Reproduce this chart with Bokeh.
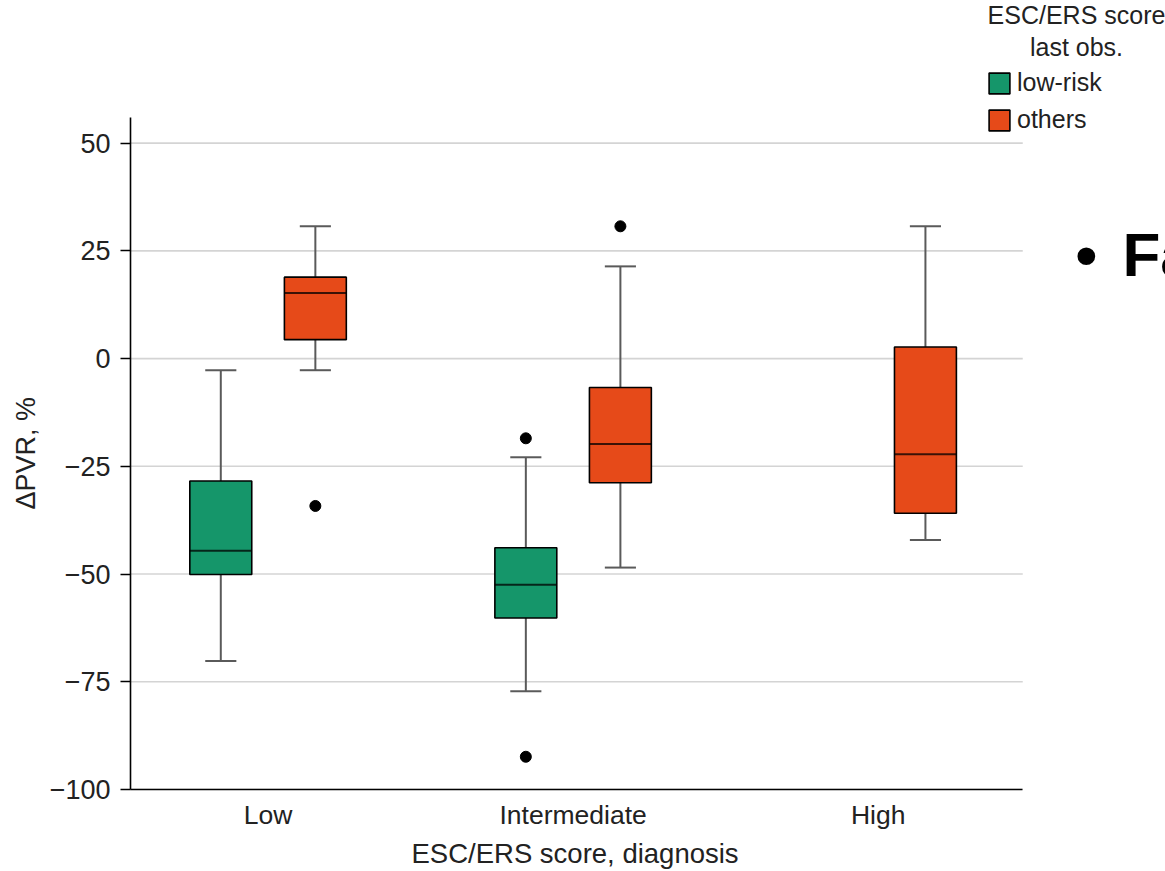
from bokeh.plotting import figure
from bokeh.models import Range1d, FixedTicker, Legend, LegendItem, Label, Title, ColumnDataSource
from bokeh.embed import file_html
from bokeh.resources import INLINE

# ---------------- data ----------------
categories = ["Low", "Intermediate", "High"]
y_ticks = [-100, -75, -50, -25, 0, 25, 50]
y_tick_labels = ["\u2212100", "\u221275", "\u221250", "\u221225", "0", "25", "50"]

# ESC/ERS score last obs. = low-risk
lowrisk_cats = ["Low", "Intermediate"]
lowrisk_lower = [-70.2, -77.2]
lowrisk_q1 = [-50.1, -60.2]
lowrisk_median = [-44.6, -52.5]
lowrisk_q3 = [-28.4, -43.9]
lowrisk_upper = [-2.7, -22.9]
lowrisk_outlier_cats = ["Intermediate", "Intermediate"]
lowrisk_outliers = [-18.5, -92.4]

# ESC/ERS score last obs. = others
others_cats = ["Low", "Intermediate", "High"]
others_lower = [-2.7, -48.5, -42.1]
others_q1 = [4.4, -28.8, -35.9]
others_median = [15.2, -19.8, -22.2]
others_q3 = [18.9, -6.7, 2.7]
others_upper = [30.7, 21.4, 30.7]
others_outlier_cats = ["Low", "Intermediate"]
others_outliers = [-34.2, 30.7]

GREEN = "#15966a"
ORANGE = "#e64a19"
WHISKER = "#5a5a5a"
FONT = "Liberation Sans"

OFFSET = 0.155
BOX_W = 0.203
CAP_HALF = 0.051

# visible plotting panel (axis / grid extent)
X_START, X_END = -0.451, 2.474
Y_START, Y_END = -100, 56

p = figure(width=1165, height=871, output_backend="svg", toolbar_location=None,
           title=None,
           x_range=Range1d(X_START, 2.942), y_range=Range1d(Y_START, 83.1),
           min_border_left=130, min_border_right=0, min_border_top=0,
           min_border_bottom=81)
p.outline_line_color = None
p.background_fill_color = "white"
p.border_fill_color = "white"
p.xgrid.visible = False
p.ygrid.visible = False

# horizontal grid lines restricted to the panel
grid_src = ColumnDataSource(dict(y=y_ticks, x0=[X_START] * len(y_ticks), x1=[X_END] * len(y_ticks)))
p.segment(x0="x0", x1="x1", y0="y", y1="y", source=grid_src, line_color="#d4d4d4", line_width=1.6)


def draw_series(cats, lower, q1, med, q3, upper, ocats, outs, offset, color):
    xs = [categories.index(c) + offset for c in cats]
    src = ColumnDataSource(dict(
        x=xs, left=[x - BOX_W / 2 for x in xs], right=[x + BOX_W / 2 for x in xs],
        cl=[x - CAP_HALF for x in xs], cr=[x + CAP_HALF for x in xs],
        lower=lower, q1=q1, med=med, q3=q3, upper=upper))
    p.segment(x0="x", x1="x", y0="q3", y1="upper", source=src, line_color=WHISKER, line_width=2)
    p.segment(x0="x", x1="x", y0="q1", y1="lower", source=src, line_color=WHISKER, line_width=2)
    p.segment(x0="cl", x1="cr", y0="upper", y1="upper", source=src, line_color=WHISKER, line_width=2)
    p.segment(x0="cl", x1="cr", y0="lower", y1="lower", source=src, line_color=WHISKER, line_width=2)
    box = p.quad(left="left", right="right", bottom="q1", top="q3", source=src,
                 fill_color=color, line_color="black", line_width=1.6)
    p.segment(x0="left", x1="right", y0="med", y1="med", source=src,
              line_color="black", line_alpha=0.75, line_width=2)
    osrc = ColumnDataSource(dict(x=[categories.index(c) + offset for c in ocats], y=outs))
    p.scatter(x="x", y="y", source=osrc, size=11, fill_color="black", line_color="black")
    return box


r_low = draw_series(lowrisk_cats, lowrisk_lower, lowrisk_q1, lowrisk_median, lowrisk_q3,
                    lowrisk_upper, lowrisk_outlier_cats, lowrisk_outliers, -OFFSET, GREEN)
r_oth = draw_series(others_cats, others_lower, others_q1, others_median, others_q3,
                    others_upper, others_outlier_cats, others_outliers, OFFSET, ORANGE)

# ---------------- axes ----------------
p.xaxis.ticker = FixedTicker(ticks=list(range(len(categories))))
p.xaxis.major_label_overrides = {i: c for i, c in enumerate(categories)}
p.xaxis.bounds = (X_START, X_END)
p.yaxis.ticker = FixedTicker(ticks=y_ticks)
p.yaxis.major_label_overrides = {t: l for t, l in zip(y_ticks, y_tick_labels)}
p.yaxis.bounds = (Y_START, Y_END)

for ax in (p.xaxis[0], p.yaxis[0]):
    ax.axis_line_color = "black"
    ax.axis_line_width = 1.6
    ax.major_label_text_font = FONT
    ax.major_label_text_color = "#222222"
    ax.minor_tick_line_color = None

p.xaxis.major_label_text_font_size = "26.5px"
p.yaxis.major_label_text_font_size = "27px"

p.xaxis.major_tick_line_color = None
p.xaxis.major_tick_out = 0
p.xaxis.major_tick_in = 0
p.xaxis.major_label_standoff = 10

p.yaxis.major_tick_out = 10
p.yaxis.major_tick_in = 0
p.yaxis.major_tick_line_color = "black"
p.yaxis.major_tick_line_width = 1.6
p.yaxis.major_label_standoff = 10

# axis titles, centred on the plotting panel (not on the whole frame)
p.add_layout(Title(text="ESC/ERS score, diagnosis", align="left", offset=281, standoff=6,
                   text_font=FONT, text_font_size="27.5px", text_font_style="normal",
                   text_color="#222222"), "below")
p.add_layout(Title(text="\u0394PVR, %", align="left", offset=280, standoff=12,
                   text_font=FONT, text_font_size="27px", text_font_style="normal",
                   text_color="#222222"), "left")

# ---------------- legend ----------------
legend = Legend(items=[LegendItem(label="low-risk", renderers=[r_low]),
                       LegendItem(label="others", renderers=[r_oth])],
                location=(856, 655), glyph_width=26, glyph_height=26,
                label_standoff=5, spacing=8, padding=0, margin=0,
                border_line_color=None, background_fill_alpha=0,
                label_text_font=FONT, label_text_font_size="25px",
                label_text_color="#222222")
p.add_layout(legend)

for txt, yy in (("ESC/ERS score", 775), ("last obs.", 743)):
    p.add_layout(Label(x=946, y=yy, x_units="screen", y_units="screen", text=txt,
                       text_align="center", text_baseline="alphabetic",
                       text_font=FONT, text_font_size="25px", text_color="#222222"))

# slide text fragment at right edge
p.add_layout(Label(x=945, y=535, x_units="screen", y_units="screen", text="\u2022",
                   text_baseline="alphabetic", text_font=FONT, text_font_size="62px",
                   text_font_style="bold", text_color="black"))
p.add_layout(Label(x=992, y=535, x_units="screen", y_units="screen", text="Fa",
                   text_baseline="alphabetic", text_font=FONT, text_font_size="62px",
                   text_font_style="bold", text_color="black"))

open("out.html", "w").write(file_html(p, INLINE))
